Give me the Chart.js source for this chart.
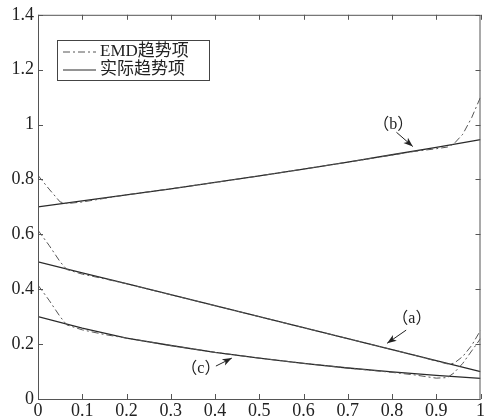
<!DOCTYPE html>
<html>
<head>
<meta charset="utf-8">
<script src="https://cdn.jsdelivr.net/npm/chart.js@4/dist/chart.umd.min.js"></script>
<style>
  html, body { margin: 0; padding: 0; background: #fff; }
  #wrap { width: 486px; height: 419px; }
</style>
</head>
<body>
<div id="wrap"><canvas id="chart" width="486" height="419"></canvas></div>
<script>
// actual trend (solid lines)
const xActual = [0, 0.1, 0.2, 0.3, 0.4, 0.5, 0.6, 0.7, 0.8, 0.9, 1];
const actualA = [0.50, 0.46, 0.42, 0.38, 0.34, 0.30, 0.26, 0.22, 0.18, 0.14, 0.10];
const actualB = [0.700, 0.722, 0.744, 0.766, 0.789, 0.813, 0.838, 0.863, 0.890, 0.917, 0.945];
const actualC = [0.300, 0.258, 0.222, 0.195, 0.170, 0.149, 0.130, 0.113, 0.099, 0.086, 0.075];

// EMD trend (dash-dot lines), with end effects at both sides
const xEmd = [0, 0.025, 0.05, 0.065, 0.1, 0.15, 0.2, 0.3, 0.4, 0.5, 0.6, 0.7, 0.8, 0.85, 0.9, 0.925, 0.94, 0.96, 0.98, 1];
const emdA = [0.615, 0.56, 0.50, 0.472, 0.455, 0.438, 0.42, 0.38, 0.34, 0.30, 0.26, 0.22, 0.18, 0.16, 0.138, 0.128, 0.13, 0.155, 0.195, 0.25];
const emdB = [0.815, 0.765, 0.718, 0.712, 0.718, 0.731, 0.744, 0.766, 0.789, 0.813, 0.838, 0.863, 0.889, 0.902, 0.912, 0.918, 0.93, 0.965, 1.025, 1.10];
const emdC = [0.415, 0.36, 0.30, 0.27, 0.252, 0.235, 0.222, 0.195, 0.17, 0.149, 0.13, 0.113, 0.097, 0.088, 0.076, 0.078, 0.095, 0.13, 0.175, 0.22];

const xTicks = [0, 0.1, 0.2, 0.3, 0.4, 0.5, 0.6, 0.7, 0.8, 0.9, 1];
const yTicks = [0, 0.2, 0.4, 0.6, 0.8, 1, 1.2, 1.4];

const legendLabels = ['EMD趋势项', '实际趋势项'];

const FONT = '"Liberation Serif", "Noto Sans CJK SC", serif';
const LINE = '#2a2a2a';
const DASH = [7, 3, 2, 3];

const pts = (xs, ys) => xs.map((x, i) => ({ x: x, y: ys[i] }));

function emdSet(ys) {
    return { data: pts(xEmd, ys), borderColor: '#555', borderWidth: 1, borderDash: DASH, pointRadius: 0, tension: 0 };
}
function actualSet(ys) {
    return { data: pts(xActual, ys), borderColor: LINE, borderWidth: 1.3, pointRadius: 0, tension: 0 };
}

// labels (a) (b) (c) with arrows, in data units
const notes = [
    { text: '（a）', at: [0.845, 0.291], from: [0.832, 0.251], to: [0.789, 0.203] },
    { text: '（b）', at: [0.803, 1.0], from: [0.81, 0.972], to: [0.847, 0.92] },
    { text: '（c）', at: [0.368, 0.109], from: [0.402, 0.12], to: [0.438, 0.149] },
];

const frame = {
    id: 'frame',
    afterDraw(chart) {
        const { ctx, chartArea: a, scales: { x, y } } = chart;
        ctx.save();
        ctx.strokeStyle = '#555';
        ctx.lineWidth = 1;
        ctx.strokeRect(a.left + 0.5, a.top + 0.5, a.right - a.left - 1, a.bottom - a.top);
        ctx.beginPath();
        xTicks.forEach(v => {
            const px = Math.round(x.getPixelForValue(v)) + 0.5;
            ctx.moveTo(px, a.bottom); ctx.lineTo(px, a.bottom - 5);
            ctx.moveTo(px, a.top); ctx.lineTo(px, a.top + 5);
        });
        yTicks.forEach(v => {
            const py = Math.round(y.getPixelForValue(v)) + 0.5;
            ctx.moveTo(a.left, py); ctx.lineTo(a.left + 5, py);
            ctx.moveTo(a.right, py); ctx.lineTo(a.right - 5, py);
        });
        ctx.stroke();

        // legend box
        const bx = 57, by = 40, bw = 152, bh = 40;
        ctx.fillStyle = '#fff';
        ctx.fillRect(bx, by, bw, bh);
        ctx.strokeStyle = '#444';
        ctx.strokeRect(bx + 0.5, by + 0.5, bw, bh);
        ctx.font = '17px ' + FONT;
        ctx.textBaseline = 'middle';
        ctx.fillStyle = '#222';
        legendLabels.forEach((t, i) => {
            const ly = by + 12 + i * 18;
            ctx.beginPath();
            ctx.setLineDash(i === 0 ? DASH : []);
            ctx.strokeStyle = i === 0 ? '#555' : LINE;
            ctx.moveTo(63, ly); ctx.lineTo(96, ly);
            ctx.stroke();
            ctx.setLineDash([]);
            ctx.fillText(t, 100, ly);
        });

        // annotations
        ctx.font = '16px ' + FONT;
        ctx.textAlign = 'center';
        notes.forEach(n => {
            ctx.fillStyle = '#222';
            ctx.fillText(n.text, x.getPixelForValue(n.at[0]), y.getPixelForValue(n.at[1]));
            const x0 = x.getPixelForValue(n.from[0]), y0 = y.getPixelForValue(n.from[1]);
            const x1 = x.getPixelForValue(n.to[0]), y1 = y.getPixelForValue(n.to[1]);
            const ang = Math.atan2(y1 - y0, x1 - x0);
            ctx.strokeStyle = '#222';
            ctx.lineWidth = 1;
            ctx.beginPath();
            ctx.moveTo(x0, y0); ctx.lineTo(x1, y1);
            ctx.stroke();
            ctx.beginPath();
            ctx.moveTo(x1, y1);
            ctx.lineTo(x1 - 10 * Math.cos(ang - 0.35), y1 - 10 * Math.sin(ang - 0.35));
            ctx.lineTo(x1 - 7 * Math.cos(ang), y1 - 7 * Math.sin(ang));
            ctx.lineTo(x1 - 10 * Math.cos(ang + 0.35), y1 - 10 * Math.sin(ang + 0.35));
            ctx.closePath();
            ctx.fill();
        });
        ctx.restore();
    }
};

const fmt = v => String(+(+v).toFixed(2));

new Chart(document.getElementById('chart').getContext('2d'), {
    type: 'line',
    data: {
        datasets: [
            emdSet(emdA), emdSet(emdB), emdSet(emdC),
            actualSet(actualA), actualSet(actualB), actualSet(actualC),
        ]
    },
    options: {
        responsive: false,
        animation: false,
        layout: { padding: { top: 14, right: 1, left: 0, bottom: 0 } },
        plugins: { legend: { display: false }, tooltip: { enabled: false } },
        scales: {
            x: {
                type: 'linear', min: 0, max: 1,
                afterFit: s => { s.height = 20; },
                afterBuildTicks: s => { s.ticks = xTicks.map(v => ({ value: v })); },
                ticks: { callback: fmt, color: '#222', padding: 1, maxRotation: 0, autoSkip: false, font: { family: FONT, size: 18 } },
                grid: { drawOnChartArea: false, drawTicks: false },
                border: { display: false }
            },
            y: {
                type: 'linear', min: 0, max: 1.4,
                afterFit: s => { s.width = 38; },
                afterBuildTicks: s => { s.ticks = yTicks.map(v => ({ value: v })); },
                ticks: { callback: fmt, color: '#222', padding: 4, autoSkip: false, font: { family: FONT, size: 18 } },
                grid: { drawOnChartArea: false, drawTicks: false },
                border: { display: false }
            }
        }
    },
    plugins: [frame]
});
</script>
</body>
</html>
